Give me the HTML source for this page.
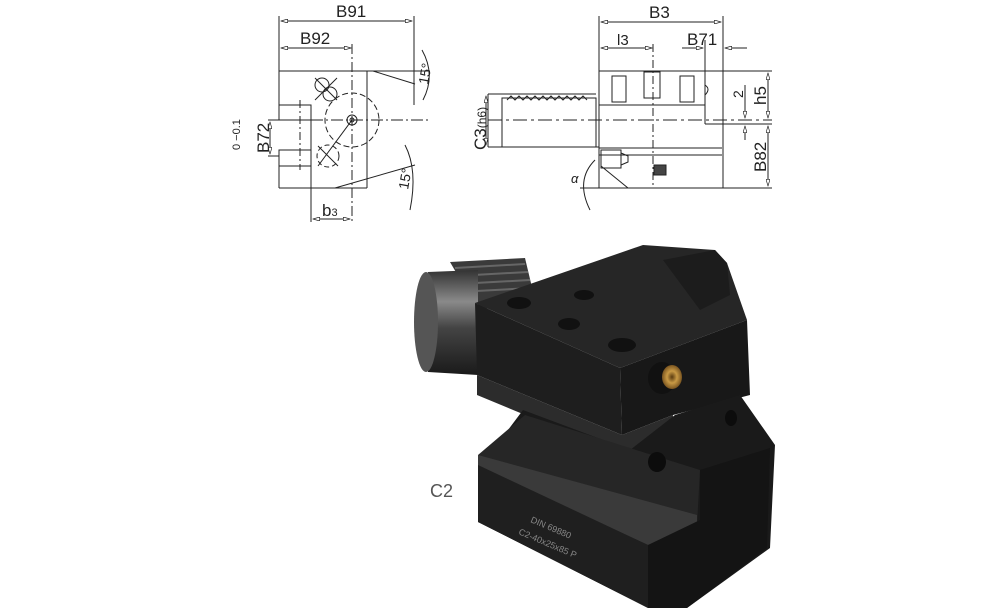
<!DOCTYPE html>
<html><head><meta charset="utf-8"><style>
html,body{margin:0;padding:0;background:#fff;}
svg{display:block;}
text{font-family:"Liberation Sans",sans-serif;fill:#222;}
</style></head><body>
<svg width="1000" height="611" viewBox="0 0 1000 611" xmlns="http://www.w3.org/2000/svg">
<defs>
<marker id="a" viewBox="0 0 10 6" refX="10" refY="3" markerWidth="8" markerHeight="4" orient="auto-start-reverse"><path d="M0,0L10,3L0,6Z" fill="#fff" stroke="#222" stroke-width="1"/></marker>
<linearGradient id="cyl" x1="0" y1="0" x2="0" y2="1"><stop offset="0" stop-color="#333"/><stop offset="0.3" stop-color="#8a8a8a"/><stop offset="0.55" stop-color="#444"/><stop offset="1" stop-color="#1a1a1a"/></linearGradient>
<radialGradient id="brass"><stop offset="0" stop-color="#5a3b10"/><stop offset="0.5" stop-color="#c99a45"/><stop offset="1" stop-color="#7a5520"/></radialGradient>
</defs>
<g stroke="#222" stroke-width="1" fill="none">
<line x1="279" y1="16" x2="279" y2="105"/><line x1="414" y1="16" x2="414" y2="105"/>
<line x1="281" y1="21" x2="412" y2="21" marker-start="url(#a)" marker-end="url(#a)"/>
<line x1="281" y1="48" x2="351" y2="48" marker-start="url(#a)" marker-end="url(#a)"/>
<line x1="352" y1="44" x2="352" y2="222" stroke-dasharray="10,3,2,3"/>
<line x1="279" y1="71" x2="430" y2="71"/>
<line x1="367" y1="71" x2="367" y2="188"/>
<line x1="279" y1="188" x2="367" y2="188"/>
<line x1="279" y1="150" x2="279" y2="188"/>
<rect x="279" y="105" width="32" height="15"/><rect x="279" y="150" width="32" height="16"/>
<line x1="311" y1="120" x2="311" y2="222"/>
<line x1="268" y1="120" x2="311" y2="120"/><line x1="268" y1="156" x2="279" y2="156"/>
<line x1="270" y1="122" x2="270" y2="154" marker-start="url(#a)" marker-end="url(#a)"/>
<line x1="300" y1="100" x2="300" y2="170" stroke-dasharray="8,3,2,3"/>
<line x1="311" y1="120" x2="430" y2="120" stroke-dasharray="12,3,2,3"/>
<line x1="373" y1="71" x2="415" y2="84"/><line x1="335" y1="188" x2="415" y2="165"/>
<path d="M422,50 Q436,75 423,100"/><path d="M405,145 Q418,170 410,210"/>
<circle cx="352" cy="120" r="27" stroke-dasharray="6,3"/>
<circle cx="352" cy="120" r="5"/><circle cx="352" cy="120" r="2"/>
<circle cx="322" cy="85" r="7"/><circle cx="330" cy="94" r="7"/>
<line x1="315" y1="78" x2="337" y2="100"/><line x1="315" y1="100" x2="337" y2="78"/>
<circle cx="328" cy="156" r="11" stroke-dasharray="5,3"/>
<line x1="318" y1="166" x2="352" y2="120"/><line x1="318" y1="146" x2="338" y2="166"/>
<line x1="313" y1="219" x2="350" y2="219" marker-start="url(#a)" marker-end="url(#a)"/>
<line x1="599" y1="16" x2="599" y2="188"/><line x1="723" y1="16" x2="723" y2="188"/>
<line x1="601" y1="22" x2="721" y2="22" marker-start="url(#a)" marker-end="url(#a)"/>
<line x1="601" y1="48" x2="652" y2="48" marker-start="url(#a)" marker-end="url(#a)"/>
<line x1="682" y1="48" x2="703" y2="48" marker-end="url(#a)"/><line x1="747" y1="48" x2="725" y2="48" marker-end="url(#a)"/>
<line x1="705" y1="40" x2="705" y2="124"/>
<line x1="653" y1="44" x2="653" y2="188" stroke-dasharray="8,3,2,3"/>
<line x1="599" y1="71" x2="772" y2="71"/>
<line x1="599" y1="105" x2="705" y2="105"/><line x1="705" y1="124" x2="772" y2="124"/>
<line x1="488" y1="120" x2="772" y2="120" stroke-dasharray="14,4,3,4"/>
<line x1="488" y1="94" x2="596" y2="94"/><line x1="488" y1="147" x2="599" y2="147"/>
<line x1="488" y1="94" x2="488" y2="147"/>
<rect x="502" y="98" width="94" height="49"/>
<path d="M507,100 l4,-4 l4,4 l4,-4 l4,4 l4,-4 l4,4 l4,-4 l4,4 l4,-4 l4,4 l4,-4 l4,4 l4,-4 l4,4 l4,-4 l4,4 l4,-4 l4,4 l4,-4 l4,4"/>
<line x1="599" y1="148" x2="722" y2="148"/><line x1="599" y1="155" x2="722" y2="155"/>
<line x1="580" y1="188" x2="772" y2="188"/>
<line x1="601" y1="166" x2="628" y2="188"/>
<rect x="601" y="150" width="20" height="18"/><path d="M621,153 l7,3 v6 l-7,3"/>
<rect x="612" y="76" width="14" height="26"/><rect x="644" y="72" width="16" height="26"/><rect x="680" y="76" width="14" height="26"/>
<rect x="654" y="165" width="12" height="10" fill="#444"/>
<path d="M705,85 q6,4 0,10"/>
<line x1="486" y1="96" x2="486" y2="145" marker-start="url(#a)" marker-end="url(#a)"/>
<line x1="768" y1="73" x2="768" y2="118" marker-start="url(#a)" marker-end="url(#a)"/>
<line x1="768" y1="126" x2="768" y2="186" marker-start="url(#a)" marker-end="url(#a)"/>
<line x1="745" y1="85" x2="745" y2="118" marker-end="url(#a)"/><line x1="745" y1="140" x2="745" y2="126" marker-end="url(#a)"/>
<path d="M595,160 Q575,180 590,210"/>
</g>
<g font-size="17">
<text x="336" y="17">B91</text><text x="300" y="44">B92</text>
<text x="649" y="18">B3</text><text x="617" y="45" font-size="15">l3</text><text x="687" y="45">B71</text>
<text x="322" y="216">b<tspan font-size="11">3</tspan></text>
<text transform="translate(269,153) rotate(-90)">B72</text>
<text transform="translate(240,150) rotate(-90)" font-size="11">0  −0.1</text>
<text transform="translate(486,150) rotate(-90)">C3<tspan font-size="12">(h6)</tspan></text>
<text transform="translate(766,105) rotate(-90)">h5</text>
<text transform="translate(766,172) rotate(-90)">B82</text>
<text transform="translate(743,98) rotate(-90)" font-size="14">2</text>
<text transform="translate(428,85) rotate(-80)" font-size="14">15°</text>
<text transform="translate(408,190) rotate(-80)" font-size="14">15°</text>
<text x="571" y="183" font-size="13" font-style="italic">α</text>
</g>
<g>
<path d="M450,262 L525,258 L535,300 L478,310 Z" fill="#3a3a3a"/>
<path d="M455,268 l70,-4 M456,276 l72,-4 M457,284 l73,-4 M458,292 l74,-4" stroke="#666" stroke-width="2"/>
<path d="M428,272 L478,270 L478,375 L428,372 Z" fill="url(#cyl)"/>
<ellipse cx="426" cy="322" rx="12" ry="50" fill="#555"/>
<polygon points="475,303 643,245 715,250 727,263 747,320 620,368" fill="#262626"/>
<polygon points="663,260 715,250 727,263 730,295 700,310" fill="#1c1c1c"/>
<polygon points="475,303 620,368 622,435 477,375" fill="#1e1e1e"/>
<polygon points="620,368 747,320 750,395 673,415 622,435" fill="#181818"/>
<polygon points="477,375 622,435 673,415 672,455 622,455 477,395" fill="#2c2c2c"/>
<polygon points="523,410 630,450 675,415 740,395 775,445 770,548 687,608 648,608 478,522 478,470" fill="#1a1a1a"/>
<polygon points="478,455 525,415 700,470 697,525 648,545 478,465" fill="#262626"/>
<polygon points="478,455 697,515 697,525 648,545 478,467" fill="#3a3a3a"/>
<polygon points="478,465 648,545 648,608 478,522" fill="#1f1f1f"/>
<polygon points="648,545 700,520 700,470 770,448 767,548 687,608 648,608" fill="#141414"/>
<ellipse cx="662" cy="378" rx="14" ry="16" fill="#111"/>
<ellipse cx="672" cy="377" rx="10" ry="12" fill="url(#brass)"/>
<ellipse cx="519" cy="303" rx="12" ry="6" fill="#111"/><ellipse cx="569" cy="324" rx="11" ry="6" fill="#111"/>
<ellipse cx="584" cy="295" rx="10" ry="5" fill="#111"/><ellipse cx="622" cy="345" rx="14" ry="7" fill="#111"/>
<ellipse cx="657" cy="462" rx="9" ry="10" fill="#0c0c0c"/><ellipse cx="731" cy="418" rx="6" ry="8" fill="#0c0c0c"/>
<text x="530" y="522" font-size="9" style="fill:#888" transform="rotate(23,530,522)">DIN 69880</text>
<text x="518" y="534" font-size="9" style="fill:#888" transform="rotate(23,518,534)">C2-40x25x85 P</text>
</g>
<text x="430" y="497" font-size="18" style="fill:#555">C2</text>
</svg>
</body></html>
